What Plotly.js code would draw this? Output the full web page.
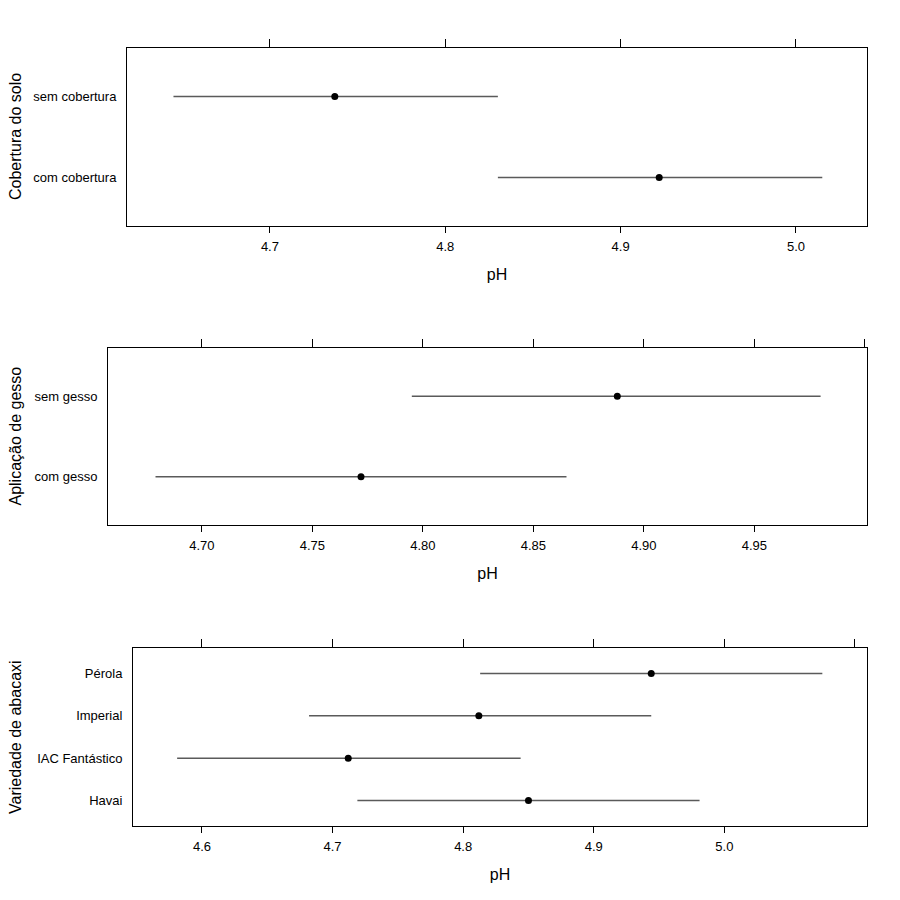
<!DOCTYPE html>
<html>
<head>
<meta charset="utf-8">
<script src="https://cdn.plot.ly/plotly-3.0.1.min.js"></script>
<style>html,body{margin:0;padding:0;background:#fff;}</style>
</head>
<body>
<div id="chart" style="width:900px;height:900px;"></div>
<script>
// Panel 1: Cobertura do solo
const cobCategories = ["com cobertura", "sem cobertura"];
const cobEstimate = [4.922, 4.737];
const cobLower = [4.830, 4.645];
const cobUpper = [5.015, 4.830];

// Panel 2: Aplicação de gesso
const gesCategories = ["com gesso", "sem gesso"];
const gesEstimate = [4.772, 4.888];
const gesLower = [4.679, 4.795];
const gesUpper = [4.865, 4.980];

// Panel 3: Variedade de abacaxi
const varCategories = ["Havai", "IAC Fantástico", "Imperial", "Pérola"];
const varEstimate = [4.850, 4.712, 4.812, 4.944];
const varLower = [4.719, 4.581, 4.682, 4.813];
const varUpper = [4.981, 4.844, 4.944, 5.075];

// Tick labels
const cobTicks = [4.7, 4.8, 4.9, 5.0];
const cobTickText = ["4.7", "4.8", "4.9", "5.0"];
const gesTicksBottom = [4.70, 4.75, 4.80, 4.85, 4.90, 4.95];
const gesTickTextBottom = ["4.70", "4.75", "4.80", "4.85", "4.90", "4.95"];
const gesTicksTop = [4.70, 4.75, 4.80, 4.85, 4.90, 4.95, 5.00];
const varTicksBottom = [4.6, 4.7, 4.8, 4.9, 5.0];
const varTickTextBottom = ["4.6", "4.7", "4.8", "4.9", "5.0"];
const varTicksTop = [4.6, 4.7, 4.8, 4.9, 5.0, 5.1];

const xTitle = "pH";
const yTitles = ["Cobertura do solo", "Aplicação de gesso", "Variedade de abacaxi"];

const W = 900, H = 900;
const panels = [
  {cats: cobCategories, est: cobEstimate, lo: cobLower, hi: cobUpper,
   box: [127, 867, 48, 226], range: [4.6185, 5.0405],
   bt: cobTicks, btt: cobTickText, tt: cobTicks},
  {cats: gesCategories, est: gesEstimate, lo: gesLower, hi: gesUpper,
   box: [108, 867, 348, 525], range: [4.6575, 5.001],
   bt: gesTicksBottom, btt: gesTickTextBottom, tt: gesTicksTop},
  {cats: varCategories, est: varEstimate, lo: varLower, hi: varUpper,
   box: [133, 867, 648, 826], range: [4.5472, 5.1092],
   bt: varTicksBottom, btt: varTickTextBottom, tt: varTicksTop}
];

const font = "Liberation Sans, Arial, Helvetica, sans-serif";
const traces = [];
const layout = {
  width: W, height: H,
  margin: {l: 0, r: 0, t: 0, b: 0},
  paper_bgcolor: "#fff", plot_bgcolor: "#fff",
  showlegend: false,
  font: {family: font, color: "#000", size: 13},
  annotations: []
};

panels.forEach((p, i) => {
  const n = i + 1;
  const xs = n === 1 ? "" : String(n);
  const xTopId = String(n + 3);
  const pos = p.cats.map((c, k) => k + 1);
  traces.push({
    type: "scatter", mode: "markers",
    x: p.est, y: pos,
    xaxis: "x" + xs, yaxis: "y" + xs,
    marker: {color: "#000", size: 7, symbol: "circle"},
    error_x: {
      type: "data", symmetric: false,
      array: p.est.map((v, k) => p.hi[k] - v),
      arrayminus: p.est.map((v, k) => v - p.lo[k]),
      color: "#5a5a5a", thickness: 1.6, width: 0
    },
    hoverinfo: "x+y"
  });
  // invisible trace on top axis so it is drawn
  traces.push({
    type: "scatter", mode: "markers",
    x: [p.range[0]], y: [1],
    xaxis: "x" + xTopId, yaxis: "y" + xs,
    marker: {opacity: 0}, hoverinfo: "skip"
  });
  const xd = [p.box[0] / W, p.box[1] / W];
  const yd = [1 - p.box[3] / H, 1 - p.box[2] / H];
  layout["xaxis" + xs] = {
    domain: xd, anchor: "y" + xs, range: p.range,
    showgrid: false, zeroline: false,
    showline: true, mirror: true, linecolor: "#000", linewidth: 1,
    ticks: "outside", ticklen: 6, tickcolor: "#000", tickwidth: 1,
    tickmode: "array", tickvals: p.bt, ticktext: p.btt,
    tickfont: {size: 13, family: font, color: "#000"},
    ticklabelstandoff: 2,
    title: {text: xTitle, font: {size: 16, family: font, color: "#000"}, standoff: 16},
    automargin: false, fixedrange: true
  };
  layout["xaxis" + xTopId] = {
    domain: xd, anchor: "y" + xs, overlaying: "x" + xs, side: "top",
    range: p.range, showgrid: false, zeroline: false, showline: false,
    ticks: "outside", ticklen: 8, tickcolor: "#000", tickwidth: 1,
    tickmode: "array", tickvals: p.tt, showticklabels: false,
    automargin: false, fixedrange: true
  };
  layout["yaxis" + xs] = {
    domain: yd, anchor: "x" + xs, range: [0.4, p.cats.length + 0.6],
    showgrid: false, zeroline: false,
    showline: true, mirror: true, linecolor: "#000", linewidth: 1,
    ticks: "outside", ticklen: 0, tickcolor: "rgba(0,0,0,0)",
    ticklabelstandoff: 7,
    tickmode: "array", tickvals: pos, ticktext: p.cats,
    tickfont: {size: 13, family: font, color: "#000"},
    automargin: false, fixedrange: true
  };
  layout.annotations.push({
    text: yTitles[i], textangle: -90,
    xref: "paper", yref: "paper",
    x: 15 / W, y: (yd[0] + yd[1]) / 2,
    xanchor: "center", yanchor: "middle", showarrow: false,
    font: {size: 16, family: font, color: "#000"}
  });
});

Plotly.newPlot("chart", traces, layout, {displayModeBar: false, staticPlot: true});
</script>
</body>
</html>
